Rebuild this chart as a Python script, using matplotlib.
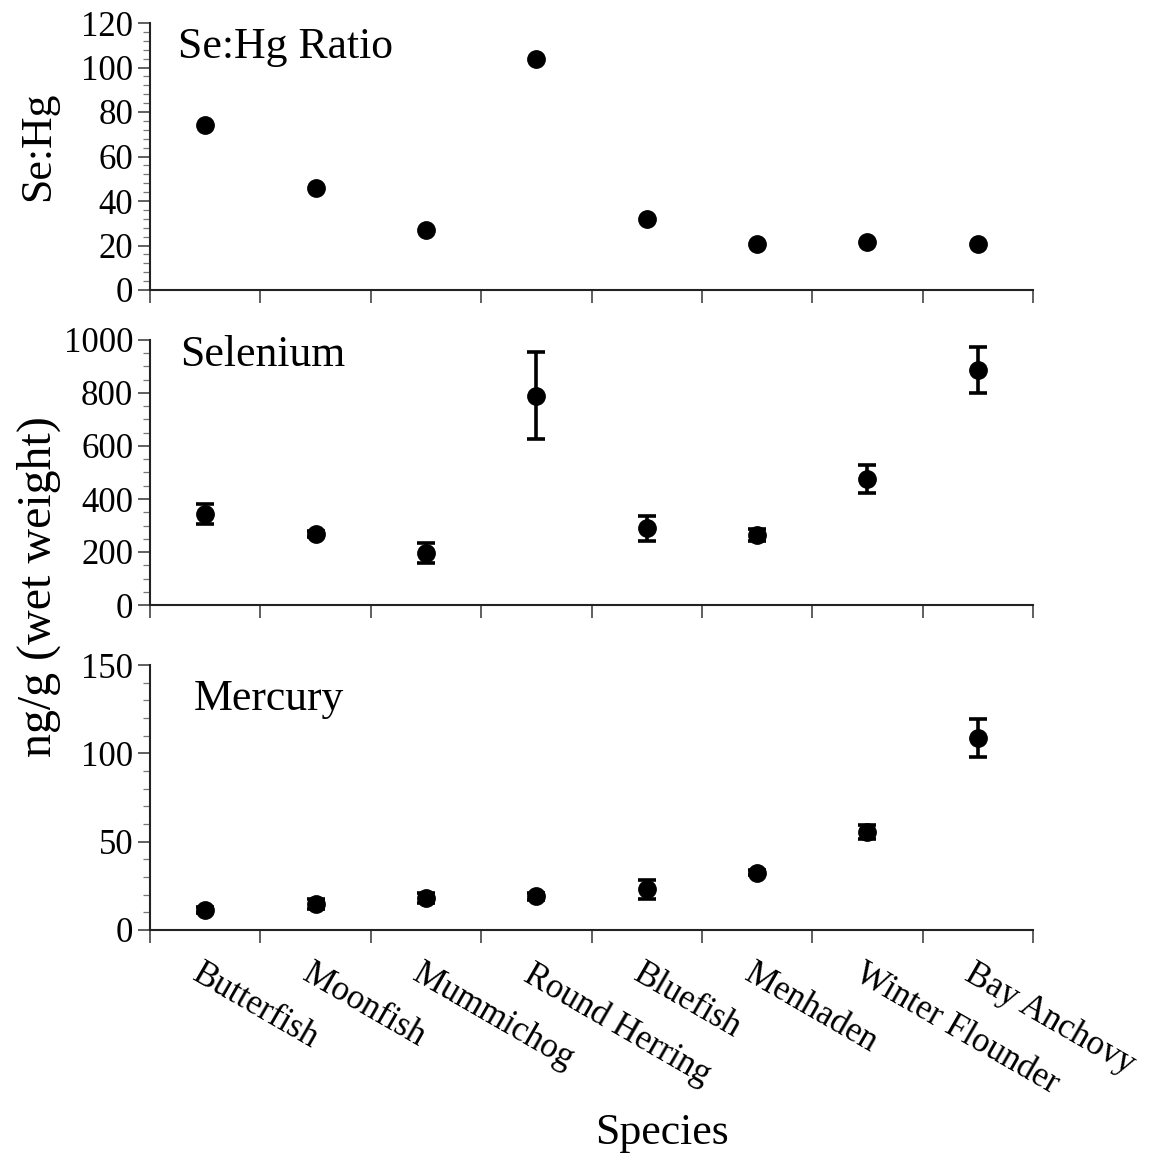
"""
Se:Hg ratio, selenium and mercury concentrations by fish species.

Three stacked panels sharing the species axis, saved to out.png.
"""
import matplotlib
matplotlib.use("Agg")
import matplotlib.pyplot as plt
from matplotlib.ticker import MultipleLocator, FixedLocator
from matplotlib.transforms import ScaledTranslation

SPECIES = ["Butterfish", "Moonfish", "Mummichog", "Round Herring",
           "Bluefish", "Menhaden", "Winter Flounder", "Bay Anchovy"]

# Se:Hg molar ratio
SEHG_RATIO = [74.2, 45.8, 27.0, 103.9, 31.9, 20.7, 21.5, 20.6]

# selenium, ng/g wet weight (mean and error)
SE_MEAN = [342, 267, 197, 790, 289, 264, 475, 887]
SE_ERR = [38, 12, 38, 165, 48, 24, 53, 88]

# mercury, ng/g wet weight (mean and error)
HG_MEAN = [11.3, 14.7, 18.3, 19.2, 23.0, 32.4, 55.6, 108.5]
HG_ERR = [1.5, 2.8, 2.8, 2.0, 5.3, 1.5, 4.0, 10.7]

FONT = ["Liberation Serif", "DejaVu Serif"]
W, H = 1158, 1159


def style_axis(ax, ymax, major, minor):
    """Spines, ticks and limits shared by all three panels."""
    ax.set_xlim(0.5, len(SPECIES) + 0.5)
    ax.set_ylim(0, ymax)
    for side in ["top", "right"]:
        ax.spines[side].set_visible(False)
    for side in ["left", "bottom"]:
        ax.spines[side].set_linewidth(1.5)
        ax.spines[side].set_color("#222222")
    ax.yaxis.set_major_locator(MultipleLocator(major))
    ax.yaxis.set_minor_locator(MultipleLocator(minor))
    ax.tick_params(axis="y", which="major", length=9, width=1.2,
                   color="#444444", labelsize=25, pad=3)
    ax.tick_params(axis="y", which="minor", length=5, width=0.9,
                   color="#777777")
    # boundary ticks between species, labels sit at the centres
    ax.xaxis.set_minor_locator(FixedLocator([i + 0.5 for i in range(len(SPECIES) + 1)]))
    ax.tick_params(axis="x", which="minor", length=9, width=1.2, color="#444444")
    ax.set_xticks(range(1, len(SPECIES) + 1))
    ax.tick_params(axis="x", which="major", length=0)


def panel_box(top, bottom):
    """Axes rectangle from pixel rows of the reference."""
    left, right = 150, 1033
    return [left / W, 1 - bottom / H, (right - left) / W, (bottom - top) / H]


def main():
    plt.rcParams["font.family"] = FONT
    fig = plt.figure(figsize=(W / 100, H / 100), dpi=100)

    xs = list(range(1, len(SPECIES) + 1))
    dot = dict(fmt="o", color="black", markersize=12.5, elinewidth=2.6,
               capsize=6.5, capthick=2.6)

    ax1 = fig.add_axes(panel_box(23, 290))
    ax1.plot(xs, SEHG_RATIO, "o", color="black", markersize=12.5)
    style_axis(ax1, 120, 20, 4)
    ax1.set_xticklabels([])
    ax1.text(0.032, 0.869, "Se:Hg Ratio", transform=ax1.transAxes, fontsize=31.5)

    ax2 = fig.add_axes(panel_box(340, 605))
    ax2.errorbar(xs, SE_MEAN, yerr=SE_ERR, **dot)
    style_axis(ax2, 1000, 200, 50)
    ax2.set_xticklabels([])
    ax2.text(0.034, 0.902, "Selenium", transform=ax2.transAxes, fontsize=31.5)

    ax3 = fig.add_axes(panel_box(665, 930))
    ax3.errorbar(xs, HG_MEAN, yerr=HG_ERR, **dot)
    style_axis(ax3, 150, 50, 10)
    ax3.text(0.05, 0.83, "Mercury", transform=ax3.transAxes, fontsize=31.5)

    ax3.set_xticklabels(SPECIES, rotation=-30, ha="left", va="top",
                        rotation_mode="anchor", fontsize=25)
    ax3.tick_params(axis="x", which="major", pad=20)
    shift = ScaledTranslation(-2 / 100, 0, fig.dpi_scale_trans)
    for label in ax3.get_xticklabels():
        label.set_transform(label.get_transform() + shift)

    fig.text(38 / W, 1 - 146 / H, "Se:Hg", rotation=90, ha="center",
             va="center", fontsize=31.5)
    fig.text(39 / W, 1 - 587 / H, "ng/g (wet weight)", rotation=90,
             ha="center", va="center", fontsize=34.5)
    fig.text(662 / W, 1 - 1133 / H, "Species", ha="center", va="center",
             fontsize=31.5)

    fig.savefig("out.png", dpi=100, facecolor="white")


if __name__ == "__main__":
    main()
